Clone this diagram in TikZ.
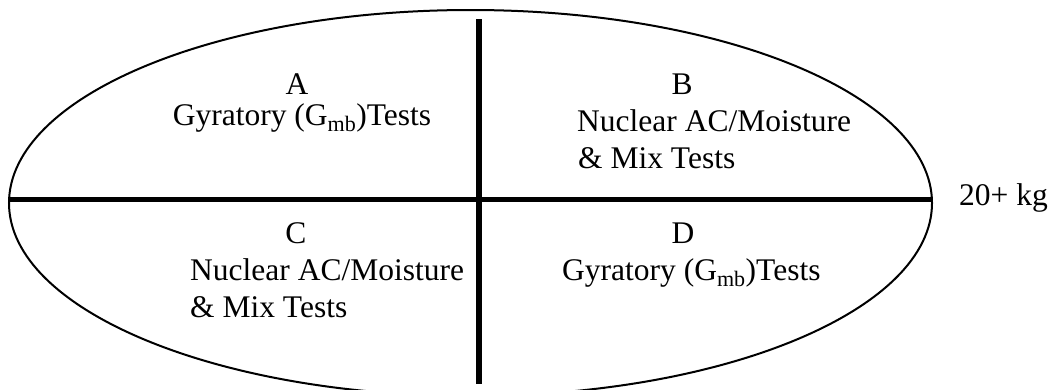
\documentclass[tikz,border=0pt]{standalone}
\usepackage{fontspec}
\setmainfont{Liberation Serif}
\usetikzlibrary{shapes.geometric, positioning}

\begin{document}
\begin{tikzpicture}[x=1pt, y=-1pt,
    lbl/.style={inner sep=0pt, font=\fontsize{31.5}{37}\selectfont},
    divider/.style={line width=5.5pt}]
    \useasboundingbox (0,0) rectangle (1056,389);
    \node[draw, ellipse, line width=2pt, inner sep=0pt, outer sep=0pt,
          minimum width=923pt, minimum height=386pt] (oval) at (470.5,203) {};
    \coordinate (top) at (479,19);
    \coordinate (bot) at (479,384);
    \draw[divider] ([yshift=3.5pt]oval.west) -- ([yshift=3.5pt]oval.east);
    \draw[divider] (top) -- (bot);

    \node[lbl, anchor=base] (a) at (297,94) {A};
    \node[lbl, anchor=base] (a1) at (302,125) {Gyratory (G\textsubscript{mb})Tests};
    \node[lbl, anchor=base] (b) at (682,94) {B};
    \node[lbl, anchor=base west] (b1) at (577,131) {Nuclear AC/Moisture};
    \node[lbl, anchor=base west] (b2) at (578,168) {\& Mix Tests};
    \node[lbl, anchor=base] (c) at (296,243) {C};
    \node[lbl, anchor=base west] (c1) at (190,280) {Nuclear AC/Moisture};
    \node[lbl, anchor=base west] (c2) at (190,317) {\& Mix Tests};
    \node[lbl, anchor=base] (d) at (683,243) {D};
    \node[lbl, anchor=base west] (d1) at (562,280) {Gyratory (G\textsubscript{mb})Tests};
    \node[lbl, anchor=base west] (kg) at (959,205) {20+ kg};
\end{tikzpicture}
\end{document}
